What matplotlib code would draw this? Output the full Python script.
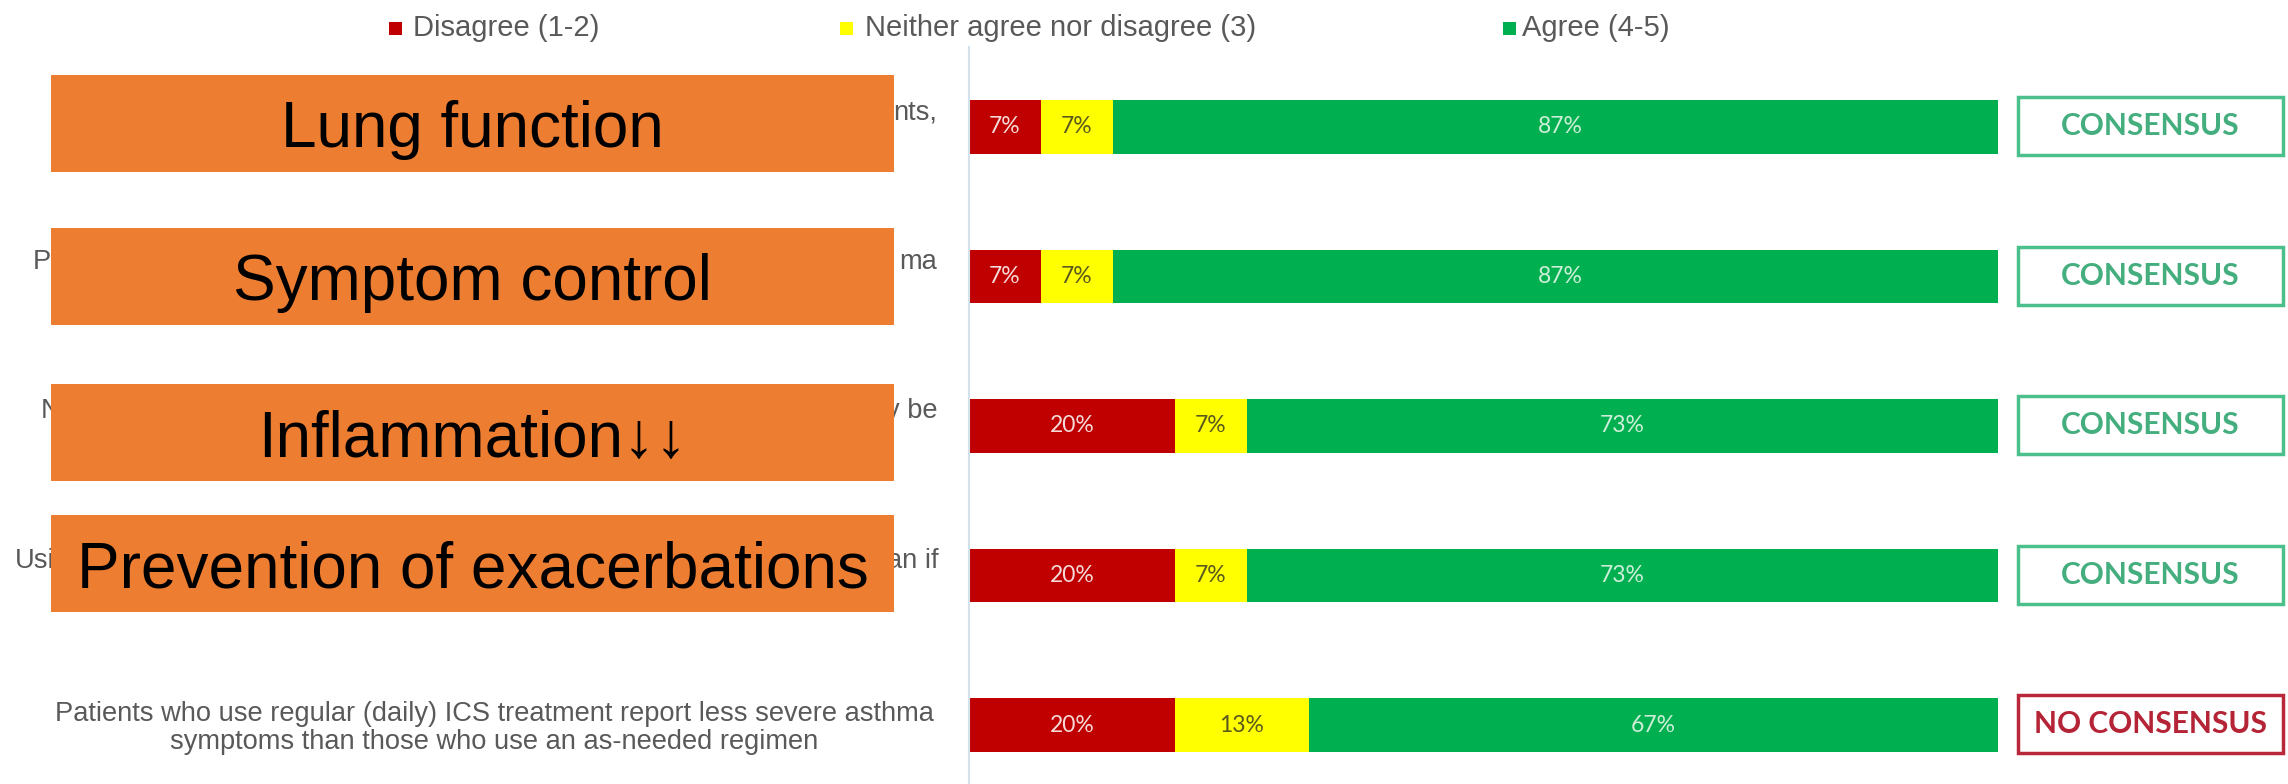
import matplotlib
matplotlib.use("Agg")
import matplotlib.pyplot as plt
from matplotlib.patches import Rectangle
from matplotlib.transforms import blended_transform_factory

# ---------------- DATA ----------------
legend_labels = ["Disagree (1-2)", "Neither agree nor disagree (3)", "Agree (4-5)"]
disagree = [7, 7, 20, 20, 20]
neutral = [7, 7, 7, 7, 13]
agree = [87, 87, 73, 73, 67]
verdicts = ["CONSENSUS", "CONSENSUS", "CONSENSUS", "CONSENSUS", "NO CONSENSUS"]
last_statement = ("Patients who use regular (daily) ICS treatment report less severe asthma\n"
                  "symptoms than those who use an as-needed regimen")
# statement ends that stay visible beside the orange labels (left piece, right piece)
statement_edges = [("", "nts,"), ("P", "ma"), ("N", "y be"), ("Usi", "an if")]
overlay_labels = ["Lung function", "Symptom control", "Inflammation\u2193\u2193",
                  "Prevention of exacerbations"]

# ---------------- STYLE ----------------
W, H = 2288, 784
RED, YELLOW, GREEN = "#C00000", "#FFFF00", "#00B050"
ORANGE = "#ED7D31"
GREY_TXT = "#595959"
SANS = ["Liberation Sans", "DejaVu Sans"]

def fx(px):
    return px / W

def fy(py):
    return 1 - py / H

fig = plt.figure(figsize=(W / 100, H / 100), dpi=100)
fig.patch.set_facecolor("white")

# bar axes: 0..100 % spans x 969..1998 px, rows every 149.5 px from y=127
ax = fig.add_axes([fx(969), 0, 1029 / W, (H - 47) / H])
rows = list(range(len(agree)))
ax.set_xlim(0, 100)
ax.set_ylim((H - 127) / 149.5, -80 / 149.5)
bh = 0.36

lefts2 = disagree
lefts3 = [a + b for a, b in zip(disagree, neutral)]
ax.barh(rows, disagree, height=bh, color=RED)
ax.barh(rows, neutral, left=lefts2, height=bh, color=YELLOW)
ax.barh(rows, agree, left=lefts3, height=bh, color=GREEN)

lab_font = dict(family=["Lato", "DejaVu Sans"], fontsize=16.5, ha="center", va="center")
for i in rows:
    ax.text(disagree[i] / 2, i, f"{disagree[i]}%", color="#F5DADA", **lab_font)
    ax.text(lefts2[i] + neutral[i] / 2, i, f"{neutral[i]}%", color="#5A5A1E", **lab_font)
    ax.text(lefts3[i] + agree[i] / 2, i, f"{agree[i]}%", color="#CDEFD8", **lab_font)

# verdict boxes to the right of the bars
for i, v in enumerate(verdicts):
    ok = v == "CONSENSUS"
    edge = "#4CC08C" if ok else "#B8283A"
    tc = "#45AE7E" if ok else "#B52436"
    ax.add_patch(Rectangle((101.9, i - 0.2), 25.8, 0.39, facecolor="white",
                           edgecolor=edge, lw=2.5, clip_on=False))
    ax.text(101.9 + 12.9, i - 0.005, v, color=tc, fontsize=21.5, fontweight="bold",
            family=["Lato", "DejaVu Sans"], ha="center", va="center", clip_on=False)

for s in ["top", "right", "bottom"]:
    ax.spines[s].set_visible(False)
ax.spines["left"].set_color("#D3E2EA")
ax.spines["left"].set_linewidth(1.5)
ax.set_xticks([])
ax.set_yticks([])

# statement text
tr = blended_transform_factory(fig.transFigure, ax.transData)
ax.text(fx(494), rows[-1] + 0.02, last_statement, transform=tr, ha="center", va="center",
        fontsize=19.6, color=GREY_TXT, family=SANS, linespacing=1.12, multialignment="center")
edge_x = [(15, 937), (33, 937), (41, 937), (15, 939)]
for i, (lt, rt) in enumerate(statement_edges):
    xl, xr = edge_x[i]
    ax.text(fx(xl), i - 0.1, lt, transform=tr, ha="left", va="center",
            fontsize=19.6, color=GREY_TXT, family=SANS)
    ax.text(fx(xr), i - 0.1, rt, transform=tr, ha="right", va="center",
            fontsize=19.6, color=GREY_TXT, family=SANS)

# orange labels laid over the statements
box_tops = [75, 228, 384, 515]
box_h = 97
for top, lab in zip(box_tops, overlay_labels):
    fig.patches.append(Rectangle((fx(51), fy(top + box_h)), (894 - 51) / W, box_h / H,
                                 transform=fig.transFigure, facecolor=ORANGE,
                                 edgecolor="none", zorder=5))
    fig.text(fx(472.5), fy(top + box_h / 2 + 23.5), lab, ha="center", va="baseline",
             fontsize=46, color="black", family=SANS, zorder=6)

# legend row
legend_items = [(RED, 389, 413), (YELLOW, 840, 865), (GREEN, 1503, 1522)]
for (c, mx, tx), lab in zip(legend_items, legend_labels):
    fig.patches.append(Rectangle((fx(mx), fy(35)), 13 / W, 13 / H,
                                 transform=fig.transFigure, facecolor=c, edgecolor="none"))
    fig.text(fx(tx), fy(36), lab, ha="left", va="baseline", fontsize=21,
             color=GREY_TXT, family=SANS)

fig.savefig("out.png", dpi=100, facecolor="white")
